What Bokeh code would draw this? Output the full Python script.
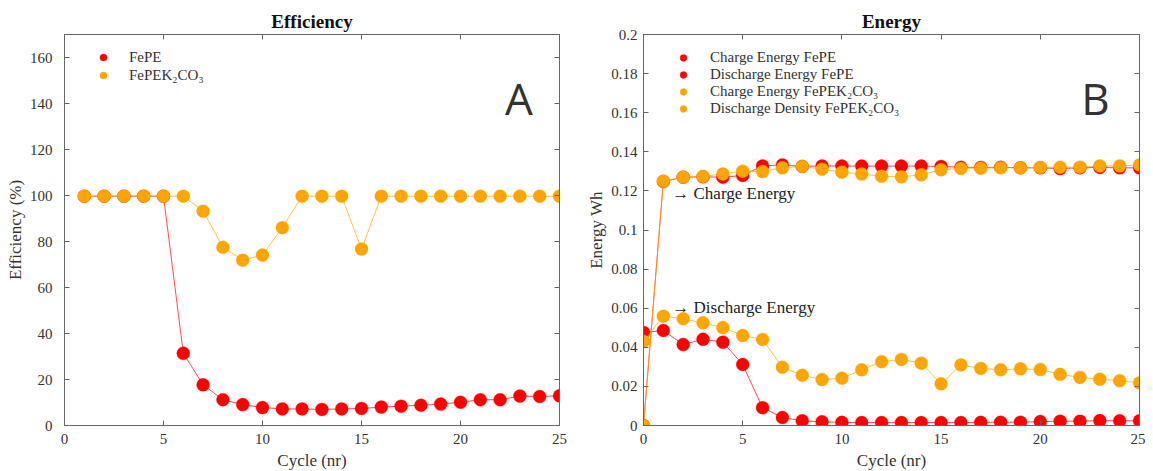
from bokeh.plotting import figure
from bokeh.layouts import row
from bokeh.models import (LinearAxis, FixedTicker, Label, Legend, LegendItem,
                          CustomJSTickFormatter)
from bokeh.embed import file_html
from bokeh.resources import INLINE

# ---------------- data ----------------
cycles_eff = list(range(1, 26))
eff_fepe = [99.7, 99.7, 99.7, 99.7, 99.7, 31.4, 17.7, 11.2, 9.1, 7.8, 7.2, 7.2, 7.0,
            7.2, 7.4, 8.0, 8.4, 8.8, 9.3, 10.1, 11.2, 11.2, 12.8, 12.6, 12.9]
eff_fepek = [99.7, 99.7, 99.7, 99.7, 99.7, 99.7, 93.2, 77.5, 71.9, 74.1, 86.0, 99.7, 99.7,
             99.7, 76.7, 99.7, 99.7, 99.7, 99.7, 99.7, 99.7, 99.7, 99.7, 99.7, 99.7]

cycles_en = list(range(0, 26))
charge_fepe = [0.0, 0.1248, 0.1270, 0.1272, 0.1270, 0.1279, 0.1328, 0.1333, 0.1325, 0.1328,
               0.1327, 0.1327, 0.1327, 0.1327, 0.1327, 0.1325, 0.1321, 0.1320, 0.1321,
               0.1318, 0.1318, 0.1314, 0.1318, 0.1320, 0.1318, 0.1318]
discharge_fepe = [0.0476, 0.0486, 0.0414, 0.0441, 0.0426, 0.0312, 0.0091, 0.0041, 0.0024,
                  0.0019, 0.0016, 0.0015, 0.0015, 0.0015, 0.0015, 0.0015, 0.0015, 0.0016,
                  0.0017, 0.0017, 0.0020, 0.0022, 0.0022, 0.0025, 0.0024, 0.0024]
charge_fepek = [0.0, 0.1250, 0.1270, 0.1274, 0.1287, 0.1301, 0.1299, 0.1318, 0.1325, 0.1311,
                0.1296, 0.1286, 0.1275, 0.1272, 0.1282, 0.1308, 0.1315, 0.1316, 0.1318,
                0.1318, 0.1320, 0.1321, 0.1321, 0.1328, 0.1328, 0.1333]
discharge_fepek = [0.0430, 0.0559, 0.0546, 0.0525, 0.0501, 0.0460, 0.0440, 0.0298, 0.0257,
                   0.0235, 0.0242, 0.0285, 0.0326, 0.0338, 0.0319, 0.0213, 0.0310, 0.0292,
                   0.0285, 0.0290, 0.0286, 0.0262, 0.0246, 0.0237, 0.0229, 0.0218]

x_ticks = [0, 5, 10, 15, 20, 25]
eff_ticks = [0, 20, 40, 60, 80, 100, 120, 140, 160]
en_ticks = [0, 0.02, 0.04, 0.06, 0.08, 0.1, 0.12, 0.14, 0.16, 0.18, 0.2]

RED = "#ff0000"
ORANGE = "#ffa500"
SERIF = "Liberation Serif"
AXC = "#666666"
TXC = "#333333"


def tick_axis(ticks):
    return LinearAxis(ticker=FixedTicker(ticks=ticks),
                      formatter=CustomJSTickFormatter(code="return '';"),
                      axis_line_color=AXC, major_tick_line_color=AXC, major_tick_in=5,
                      major_tick_out=0, minor_tick_line_color=None, major_label_standoff=0,
                      major_label_text_font_size="1px")


def style(p, yticks, xlabel, ylabel, ystandoff):
    p.outline_line_color = AXC
    p.outline_line_width = 1
    p.xgrid.visible = False
    p.ygrid.visible = False
    p.title.text_font = SERIF
    p.title.text_font_size = "19px"
    p.title.text_font_style = "bold"
    p.title.align = "center"
    p.title.text_color = "#111111"
    p.title.offset = 0
    p.title.standoff = 5
    for ax in p.below + p.left:
        ax.axis_line_color = AXC
        ax.major_tick_line_color = AXC
        ax.major_tick_in = 5
        ax.major_tick_out = 0
        ax.minor_tick_line_color = None
        ax.major_label_text_font = SERIF
        ax.major_label_text_font_size = "15px"
        ax.major_label_text_color = TXC
        ax.axis_label_text_font = SERIF
        ax.axis_label_text_font_size = "17px"
        ax.axis_label_text_font_style = "normal"
        ax.axis_label_text_color = TXC
    p.below[0].ticker = FixedTicker(ticks=x_ticks)
    p.left[0].ticker = FixedTicker(ticks=yticks)
    p.below[0].axis_label = xlabel
    p.left[0].axis_label = ylabel
    p.below[0].major_label_standoff = 8
    p.below[0].axis_label_standoff = 4
    p.left[0].major_label_standoff = ystandoff
    p.left[0].axis_label_standoff = 2
    p.add_layout(tick_axis(x_ticks), "above")
    p.add_layout(tick_axis(yticks), "right")


# ---------------- left: efficiency ----------------
p1 = figure(frame_width=495, frame_height=391, x_range=(0, 25), y_range=(0, 170),
            output_backend="svg", toolbar_location=None, title="Efficiency",
            min_border_left=64, min_border_right=25, min_border_top=34, min_border_bottom=10)
style(p1, eff_ticks, "Cycle (nr)", "Efficiency (%)", 12)

p1.line(cycles_eff, eff_fepe, line_color=RED, line_width=1, line_alpha=0.7)
r1 = p1.scatter(cycles_eff, eff_fepe, size=13, fill_color=RED, line_color=RED, line_alpha=0.3)
p1.line(cycles_eff, eff_fepek, line_color=ORANGE, line_width=1, line_alpha=0.7)
r2 = p1.scatter(cycles_eff, eff_fepek, size=13, fill_color=ORANGE, line_color=ORANGE, line_alpha=0.3)

leg1 = Legend(items=[LegendItem(label="FePE", renderers=[r1]),
                     LegendItem(label="FePEK₂CO₃", renderers=[r2])],
              location="top_left", border_line_color=None, background_fill_alpha=0,
              label_text_font=SERIF, label_text_font_size="15px", label_text_color=TXC,
              glyph_width=50, glyph_height=18, label_height=18, spacing=0,
              label_standoff=1, margin=14, padding=9)
p1.add_layout(leg1)
p1.add_layout(Label(x=23.65, y=142.5, text="A", text_font="Open Sans",
                    text_font_size="44px", text_color="#333333", text_align="right",
                    text_baseline="alphabetic"))

# ---------------- right: energy ----------------
p2 = figure(frame_width=496, frame_height=391, x_range=(0, 25), y_range=(0, 0.2),
            output_backend="svg", toolbar_location=None, title="Energy",
            min_border_left=56, min_border_right=6, min_border_top=34, min_border_bottom=10)
style(p2, en_ticks, "Cycle (nr)", "Energy Wh", 6)
p2.left[0].formatter = CustomJSTickFormatter(
    code="return tick.toFixed(2).replace(/0+$/, '').replace(/\\.$/, '');")

rs = []
for ys, col in [(charge_fepe, RED), (discharge_fepe, RED),
                (charge_fepek, ORANGE), (discharge_fepek, ORANGE)]:
    p2.line(cycles_en, ys, line_color=col, line_width=1, line_alpha=0.7)
    rs.append(p2.scatter(cycles_en, ys, size=13, fill_color=col, line_color=col, line_alpha=0.3))

leg2 = Legend(items=[LegendItem(label="Charge Energy FePE", renderers=[rs[0]]),
                     LegendItem(label="Discharge Energy FePE", renderers=[rs[1]]),
                     LegendItem(label="Charge Energy FePEK₂CO₃", renderers=[rs[2]]),
                     LegendItem(label="Discharge Density FePEK₂CO₃", renderers=[rs[3]])],
              location="top_left", border_line_color=None, background_fill_alpha=0,
              label_text_font=SERIF, label_text_font_size="15px", label_text_color=TXC,
              glyph_width=50, glyph_height=17, label_height=17, spacing=0,
              label_standoff=2, margin=15, padding=9)
p2.add_layout(leg2)
p2.add_layout(Label(x=23.5, y=0.1673, text="B", text_font="Open Sans",
                    text_font_size="44px", text_color="#333333", text_align="right",
                    text_baseline="alphabetic"))
p2.add_layout(Label(x=1.45, y=0.1187, text="→ Charge Energy", text_font=SERIF,
                    text_font_size="17px", text_color="#222222", text_align="left",
                    text_baseline="middle"))
p2.add_layout(Label(x=1.45, y=0.0604, text="→ Discharge Energy", text_font=SERIF,
                    text_font_size="17px", text_color="#222222", text_align="left",
                    text_baseline="middle"))

layout = row(p1, p2, spacing=0)
open("out.html", "w").write(file_html(layout, INLINE))
